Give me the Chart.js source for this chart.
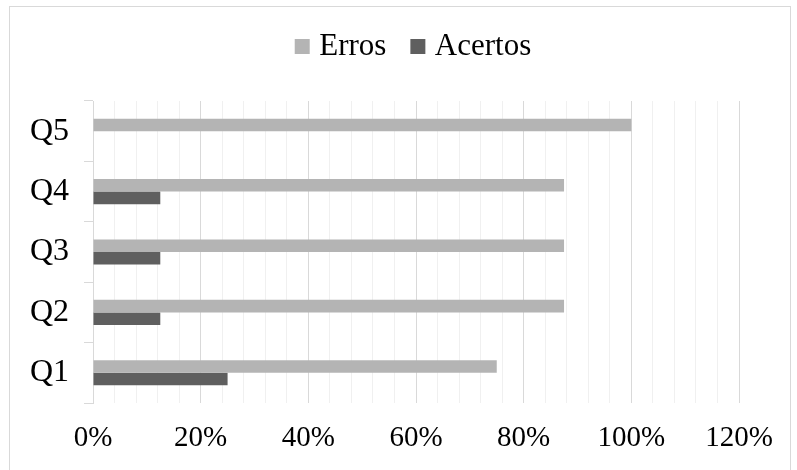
<!DOCTYPE html>
<html>
<head>
<meta charset="utf-8">
<script src="https://cdn.jsdelivr.net/npm/chart.js@4/dist/chart.umd.min.js"></script>
<style>
  html, body { margin: 0; padding: 0; background: #ffffff; }
  #wrap { position: relative; width: 797px; height: 470px; overflow: hidden; }
  #frame {
    position: absolute; left: 9px; top: 6px; width: 780px; height: 520px;
    border: 1px solid #d9d9d9; box-sizing: content-box;
  }
  #chart { position: absolute; left: 0; top: 0; }
</style>
</head>
<body>
<div id="wrap">
  <div id="frame"></div>
  <canvas id="chart" width="797" height="470"></canvas>
</div>
<script>
// Questions on the category axis (Q1 at the bottom)
const categories = ['Q1', 'Q2', 'Q3', 'Q4', 'Q5'];
// Share of wrong and right answers per question
const erros   = [0.75, 0.875, 0.875, 0.875, 1.0];
const acertos = [0.25, 0.125, 0.125, 0.125, 0.0];
const seriesNames = ['Erros', 'Acertos'];
const seriesColors = ['#b4b4b4', '#5f5f5f'];
// Labelled value ticks; minor grid lines fall every 4 %
const tickLabels = ['0%', '20%', '40%', '60%', '80%', '100%', '120%'];
const axisMax = 1.2;
const minorStep = 0.04;
const minorPerMajor = 5;

const serif = "'Liberation Serif', 'Times New Roman', serif";

new Chart(document.getElementById('chart'), {
  type: 'bar',
  data: {
    labels: categories,
    datasets: [
      { label: seriesNames[0], data: erros,   backgroundColor: seriesColors[0], borderWidth: 0 },
      { label: seriesNames[1], data: acertos, backgroundColor: seriesColors[1], borderWidth: 0 }
    ]
  },
  options: {
    indexAxis: 'y',
    responsive: false,
    animation: false,
    devicePixelRatio: 1,
    categoryPercentage: 0.415,
    barPercentage: 1.0,
    layout: { padding: { left: 0, right: 58, top: 1, bottom: 0 } },
    plugins: {
      tooltip: { enabled: false },
      legend: {
        position: 'top',
        fullSize: false,
        labels: {
          font: { family: serif, size: 31 },
          color: '#000000',
          padding: 30,
          boxWidth: 3,
          boxHeight: 3,
          generateLabels: (chart) => chart.data.datasets.map((ds, i) => ({
            text: ds.label,
            fillStyle: ds.backgroundColor,
            strokeStyle: ds.backgroundColor,
            lineWidth: 12,
            lineJoin: 'miter',
            hidden: false,
            datasetIndex: i
          }))
        }
      },
      // empty band between the legend and the plot
      subtitle: {
        display: true,
        text: '',
        position: 'top',
        weight: 500,
        fullSize: false,
        font: { size: 1, lineHeight: 1 },
        padding: { top: 0, bottom: 28 }
      }
    },
    scales: {
      x: {
        type: 'linear',
        min: 0,
        max: axisMax,
        border: { display: false },
        grid: {
          drawTicks: false,
          lineWidth: 1,
          color: (ctx) => (ctx.index % minorPerMajor === 0) ? '#d9d9d9' : '#f0f0f0'
        },
        ticks: {
          stepSize: minorStep,
          autoSkip: false,
          maxRotation: 0,
          minRotation: 0,
          padding: 18,
          color: '#000000',
          font: { family: serif, size: 29 },
          callback: (value, index) => (index % minorPerMajor === 0) ? tickLabels[index / minorPerMajor] : ''
        },
        afterFit: (scale) => { scale.height = 67; }
      },
      y: {
        type: 'category',
        reverse: true,
        border: { color: '#d9d9d9' },
        grid: {
          offset: true,
          drawOnChartArea: false,
          drawTicks: true,
          tickLength: 9,
          color: '#d9d9d9'
        },
        ticks: {
          padding: 15,
          color: '#000000',
          font: { family: serif, size: 32 }
        },
        afterFit: (scale) => { scale.width = 93; }
      }
    }
  }
});
</script>
</body>
</html>
